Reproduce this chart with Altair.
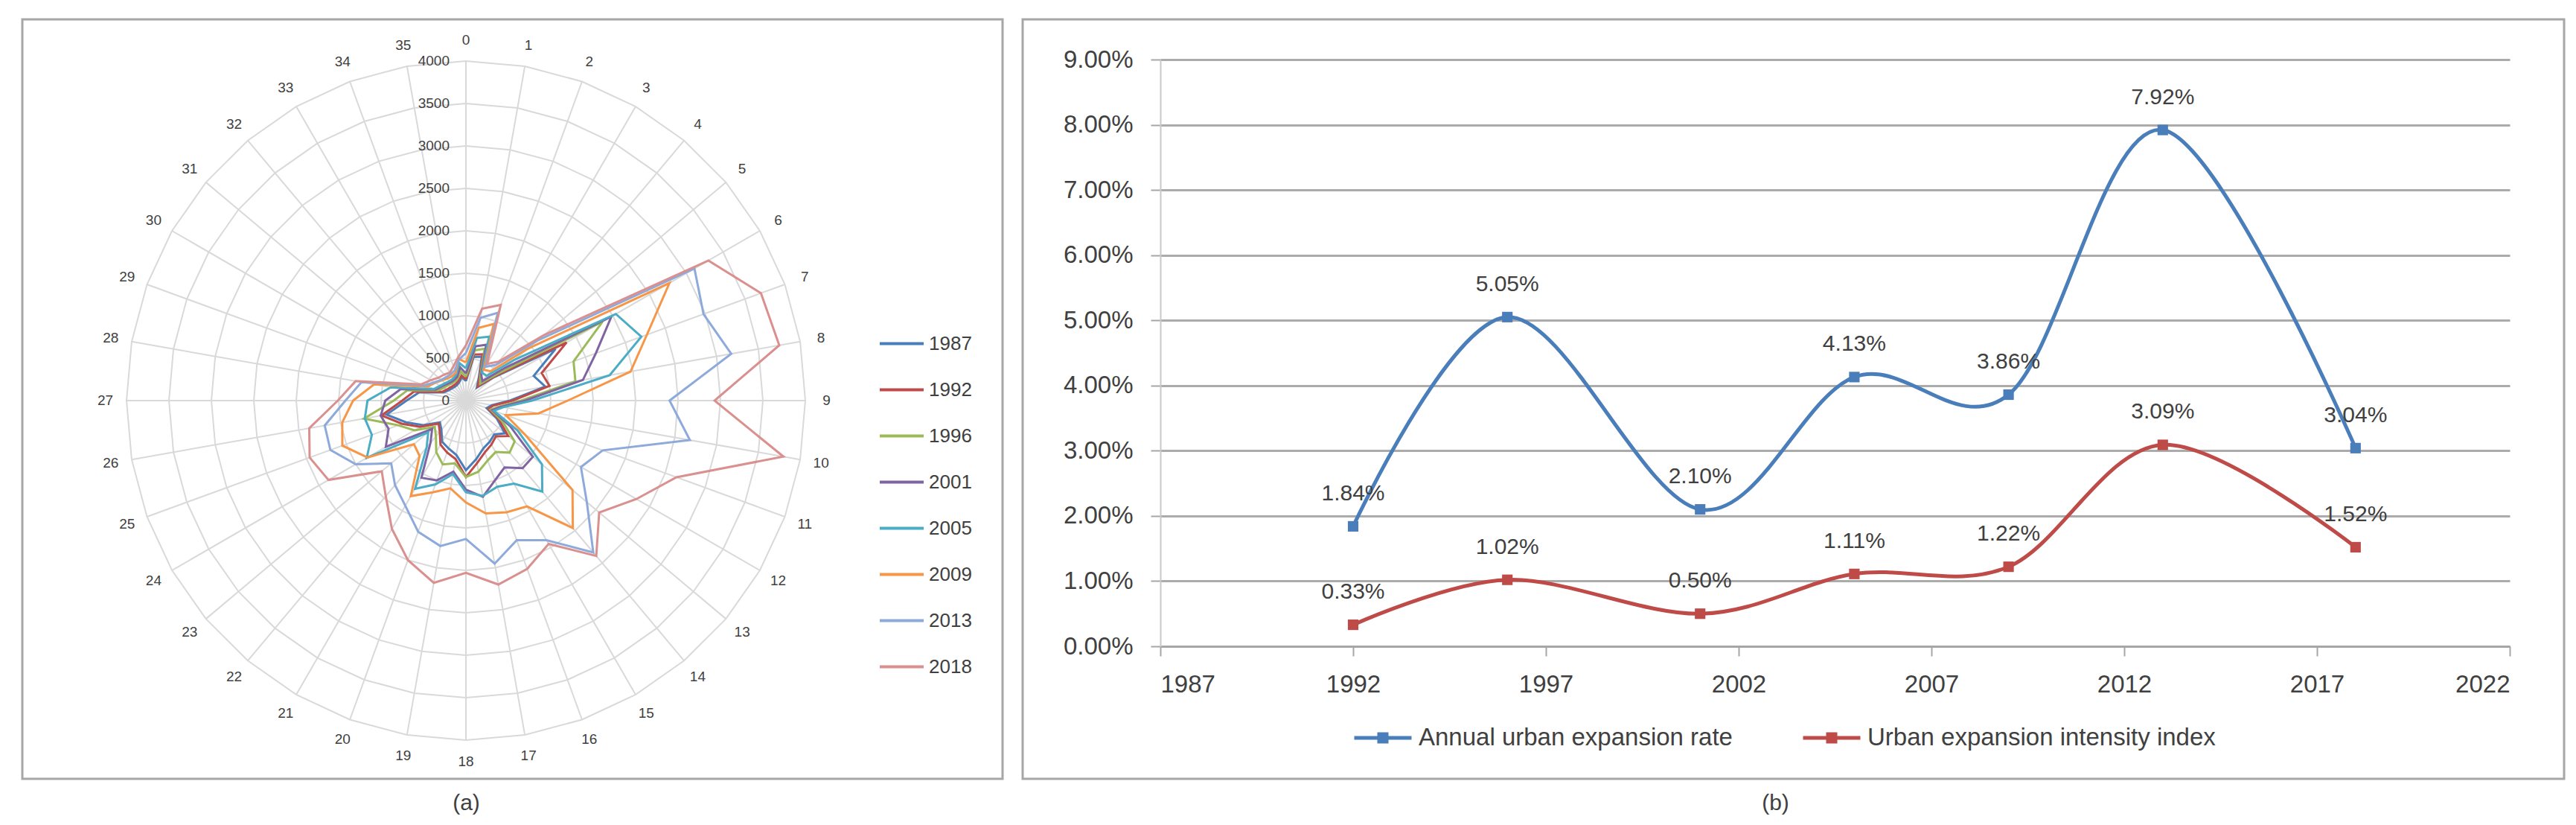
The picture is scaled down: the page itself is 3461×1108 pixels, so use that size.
import altair as alt
import pandas as pd

# ---------------- Panel (a): radar data ----------------
directions = list(range(36))
years = ["1987", "1992", "1996", "2001", "2005", "2009", "2013", "2018"]
year_colors = ["#4A7EBB", "#BE4B48", "#9BBB59", "#8064A2", "#4BACC6", "#F79646", "#8EAADB", "#D9908E"]

v1987 = [230, 520, 550, 300, 200, 420, 1220, 850, 950, 520, 310, 260, 420, 600, 520, 560, 600, 700,
         820, 650, 600, 560, 450, 400, 580, 750, 950, 700, 560, 280, 240, 220, 210, 210, 230, 280]
v1992 = [250, 550, 580, 320, 220, 450, 1370, 950, 1000, 550, 330, 280, 450, 650, 550, 600, 650, 750,
         900, 700, 650, 600, 480, 420, 620, 800, 1010, 750, 620, 300, 260, 240, 230, 230, 250, 300]
v1996 = [280, 600, 650, 340, 260, 500, 1860, 1350, 1310, 650, 400, 310, 500, 750, 800, 700, 750, 850,
         900, 750, 800, 700, 550, 480, 700, 850, 1220, 850, 700, 350, 300, 280, 260, 260, 280, 350]
v2001 = [320, 650, 700, 360, 300, 600, 1980, 1630, 1400, 700, 420, 330, 600, 1030, 1040, 910, 1000, 1150,
         1050, 850, 1000, 1050, 650, 520, 1090, 970, 1020, 950, 780, 380, 330, 300, 280, 280, 300, 400]
v2005 = [380, 750, 800, 380, 380, 750, 2040, 2200, 1720, 780, 450, 350, 700, 1170, 1400, 1130, 1080, 1140,
         1080, 880, 1050, 1200, 720, 580, 1350, 1180, 1210, 1160, 900, 400, 350, 320, 300, 300, 330, 450]
v2009 = [450, 870, 960, 420, 450, 950, 2770, 2270, 1970, 1200, 870, 500, 810, 1640, 1960, 1440, 1400, 1350,
         1200, 1050, 1150, 1300, 850, 800, 1340, 1550, 1480, 1330, 1100, 480, 420, 370, 340, 330, 350, 500]
v2013 = [560, 990, 1100, 460, 550, 1100, 3110, 2980, 3175, 2400, 2680, 1715, 1565, 1860, 2335, 1900, 1750, 1950,
         1630, 1740, 1645, 1430, 1300, 1150, 1500, 1700, 1690, 1420, 1250, 520, 430, 380, 360, 360, 380, 490]
v2018 = [650, 1100, 1200, 500, 600, 1200, 3300, 3700, 3750, 2930, 3800, 2640, 2320, 2050, 2390, 1950, 2110, 2200,
         2030, 2180, 2000, 1745, 1470, 1295, 1870, 1960, 1875, 1510, 1320, 560, 480, 420, 400, 380, 430, 520]
radar_values = [v1987, v1992, v1996, v2001, v2005, v2009, v2013, v2018]

ring_values = [500, 1000, 1500, 2000, 2500, 3000, 3500, 4000]
ring_label_values = [0, 500, 1000, 1500, 2000, 2500, 3000, 3500, 4000]
r_max = 4000
r_cat_label = 4250

# ---------------- Panel (b): line data ----------------
line_years = [1992, 1996, 2001, 2005, 2009, 2013, 2018]
expansion_rate = [0.0184, 0.0505, 0.0210, 0.0413, 0.0386, 0.0792, 0.0304]
intensity_index = [0.0033, 0.0102, 0.0050, 0.0111, 0.0122, 0.0309, 0.0152]
series_names = ["Annual urban expansion rate", "Urban expansion intensity index"]
series_colors = ["#4A7EBB", "#BE4B48"]
x_ticks = [1987, 1992, 1997, 2002, 2007, 2012, 2017, 2022]
y_ticks = [0.0, 0.01, 0.02, 0.03, 0.04, 0.05, 0.06, 0.07, 0.08, 0.09]

FONT = "Liberation Sans"
TXT = "#404040"
GRID = "#D9D9D9"
FRAME = "#A6A6A6"

# shared vertical geometry: both views start 54px below the frame top
H = 788
FRAME_TOP, FRAME_BOTTOM = -54, 966

# ================= Panel (a) =================
W_A = 1317
CX, CY = 596, 458          # radar centre inside the view (px)
K = 456 / r_max            # px per unit
xdom = [-CX / K, (W_A - CX) / K]
ydom = [-(H - CY) / K, CY / K]


def X(field):
    return alt.X(field, type="quantitative", scale=alt.Scale(domain=xdom, nice=False, zero=False), axis=None)


def Y(field):
    return alt.Y(field, type="quantitative", scale=alt.Scale(domain=ydom, nice=False, zero=False), axis=None)


rows = []
for yr, vals in zip(years, radar_values):
    for k in range(37):
        rows.append({"year": yr, "k": k, "v": vals[k % 36]})
radar_df = pd.DataFrame(rows)

ring_rows = []
for r in ring_values:
    for k in range(37):
        ring_rows.append({"ring": r, "k": k, "v": r})
ring_df = pd.DataFrame(ring_rows)

spoke_df = pd.DataFrame({"k": directions, "v": [r_max] * 36})
cat_df = pd.DataFrame({"k": directions, "v": [r_cat_label] * 36, "label": [str(d) for d in directions]})
rlab_df = pd.DataFrame({"v": ring_label_values, "label": [str(v) for v in ring_label_values]})

polar = dict(
    px="datum.v * sin(datum.k * PI / 18)",
    py="datum.v * cos(datum.k * PI / 18)",
)

frame_a = alt.Chart(pd.DataFrame({"p": ["a"]})).mark_rect(
    filled=False, stroke=FRAME, strokeWidth=3
).encode(x=alt.value(0), x2=alt.value(W_A), y=alt.value(FRAME_TOP), y2=alt.value(FRAME_BOTTOM))

rings = alt.Chart(ring_df).transform_calculate(**polar).mark_line(
    color=GRID, strokeWidth=2
).encode(x=X("px"), y=Y("py"), detail="ring:N", order="k:Q")

spokes = alt.Chart(spoke_df).transform_calculate(cx="0", cy="0", **polar).mark_rule(
    color=GRID, strokeWidth=2
).encode(x=X("cx"), y=Y("cy"), x2="px:Q", y2="py:Q")

ring_labels = alt.Chart(rlab_df).transform_calculate(cx="0").mark_text(
    align="right", baseline="middle", dx=-22, font=FONT, fontSize=19, color=TXT
).encode(x=X("cx"), y=Y("v"), text="label:N")

cat_labels = alt.Chart(cat_df).transform_calculate(**polar).mark_text(
    align="center", baseline="middle", font=FONT, fontSize=19, color=TXT
).encode(x=X("px"), y=Y("py"), text="label:N")

series = alt.Chart(radar_df).transform_calculate(**polar).mark_line(strokeWidth=3).encode(
    x=X("px"), y=Y("py"), order="k:Q",
    color=alt.Color("year:N", scale=alt.Scale(domain=years, range=year_colors),
                    legend=alt.Legend(title=None, orient="none", legendX=1150, legendY=350,
                                      symbolType="stroke", symbolSize=3481, symbolStrokeWidth=4,
                                      labelFontSize=26, labelFont=FONT, labelColor=TXT,
                                      rowPadding=17, labelOffset=5, labelLimit=0)),
)

panel_a = alt.layer(frame_a, rings, spokes, series, ring_labels, cat_labels).properties(
    width=W_A, height=H,
    title=alt.TitleParams("(a)", orient="bottom", fontSize=30, fontWeight="normal", font=FONT,
                          color=TXT, offset=16, anchor="middle", dx=-62),
)

# ================= Panel (b) =================
W_B = 1813

lrows = []
for name, vals in zip(series_names, [expansion_rate, intensity_index]):
    for yr, v in zip(line_years, vals):
        lrows.append({"series": name, "year": yr, "value": v})
line_df = pd.DataFrame(lrows)

xb = alt.X("year:Q", scale=alt.Scale(domain=[1987, 2022], nice=False, zero=False),
           axis=alt.Axis(values=x_ticks, format="d", title=None, grid=False, labelFontSize=33,
                         labelFont=FONT, labelColor=TXT, tickColor=FRAME, tickSize=13, tickWidth=2,
                         domainColor=FRAME, domainWidth=3, labelPadding=22))
yb = alt.Y("value:Q", scale=alt.Scale(domain=[0, 0.09], nice=False),
           axis=alt.Axis(values=y_ticks, format=".2%", title=None, grid=True, gridColor="#ABABAB",
                         gridWidth=3, labelFontSize=33, labelFont=FONT, labelColor=TXT,
                         tickColor=FRAME, tickSize=13, tickWidth=2, domainColor="#C8C8C8",
                         domainWidth=2, labelPadding=24))
cb = alt.Color("series:N", scale=alt.Scale(domain=series_names, range=series_colors),
               legend=alt.Legend(title=None, orient="none", direction="horizontal", legendX=258,
                                 legendY=870, symbolType="M-1,0L1,0M-0.13,-0.13L0.13,-0.13L0.13,0.13L-0.13,0.13Z",
                                 symbolSize=5929, symbolStrokeWidth=5, labelFontSize=33, labelFont=FONT,
                                 labelColor=TXT, columnPadding=84, labelOffset=7, labelLimit=0))

frame_b = alt.Chart(pd.DataFrame({"p": ["b"]})).mark_rect(
    filled=False, stroke=FRAME, strokeWidth=3
).encode(x=alt.value(-185), x2=alt.value(1886), y=alt.value(FRAME_TOP), y2=alt.value(FRAME_BOTTOM))

lines_b = alt.Chart(line_df).mark_line(interpolate="cardinal", strokeWidth=5).encode(x=xb, y=yb, color=cb)
points_b = alt.Chart(line_df).mark_square(size=200, filled=True, opacity=1).encode(x=xb, y=yb, color=cb)
labels_b = alt.Chart(line_df).mark_text(
    align="center", baseline="middle", dy=-44, font=FONT, fontSize=30, color=TXT
).encode(x=xb, y=yb, text=alt.Text("value:Q", format=".2%"))

panel_b = alt.layer(frame_b, lines_b, points_b, labels_b).properties(
    width=W_B, height=H,
    title=alt.TitleParams("(b)", orient="bottom", fontSize=30, fontWeight="normal", font=FONT,
                          color=TXT, offset=16, anchor="middle", dx=-80),
)

chart = alt.hconcat(panel_a, panel_b, spacing=23).resolve_scale(
    color="independent"
).resolve_legend(color="independent").properties(
    padding={"left": 20, "top": 16, "right": 5, "bottom": 5}, background="white"
).configure_view(stroke=None)

chart.save("out.html", embed_options={"renderer": "svg", "actions": False})
